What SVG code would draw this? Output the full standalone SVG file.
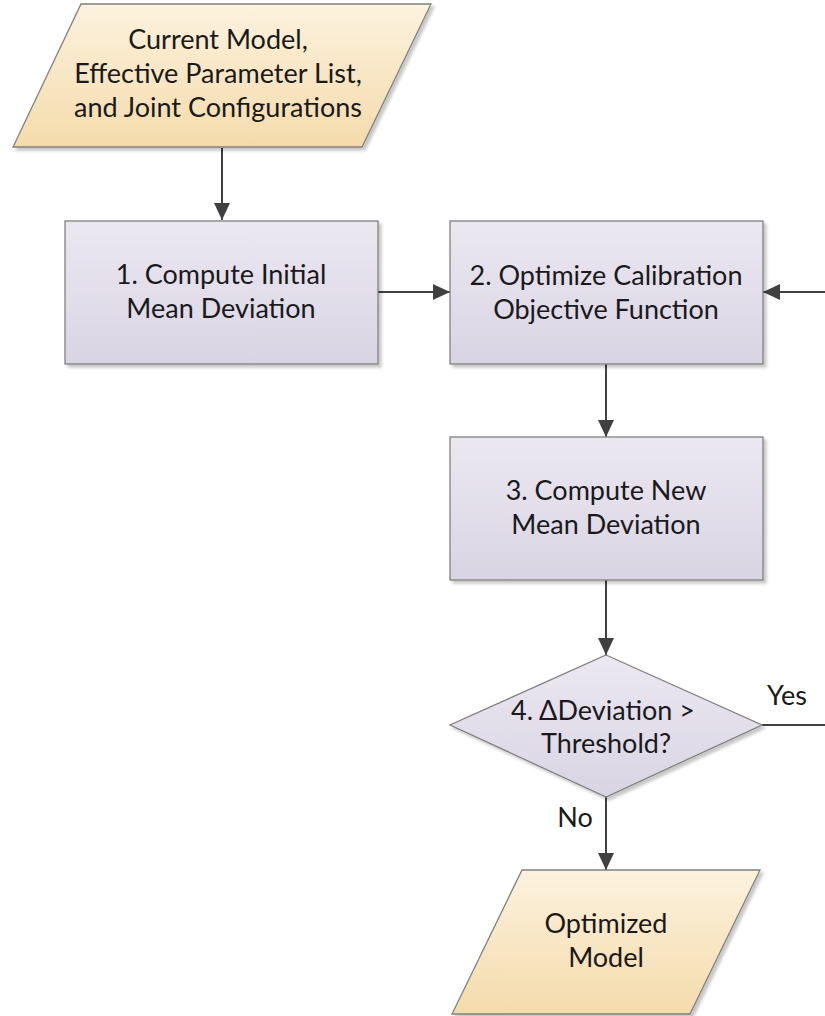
<svg xmlns="http://www.w3.org/2000/svg" width="825" height="1016" viewBox="0 0 825 1016">
<defs>
<linearGradient id="gBox" x1="0" y1="0" x2="0" y2="1">
<stop offset="0" stop-color="#ece8f1"/>
<stop offset="1" stop-color="#d9d4e3"/>
</linearGradient>
<linearGradient id="gIO" x1="0" y1="0" x2="0" y2="1">
<stop offset="0" stop-color="#fcf2de"/>
<stop offset="1" stop-color="#f4dbab"/>
</linearGradient>
<filter id="sh" x="-10%" y="-10%" width="130%" height="130%">
<feDropShadow dx="3" dy="3" stdDeviation="1.5" flood-color="#000" flood-opacity="0.22"/>
</filter>
<marker id="arr" markerUnits="userSpaceOnUse" viewBox="0 0 17 16" refX="17" refY="8" markerWidth="17" markerHeight="16" orient="auto">
<path d="M0,0 L17,8 L0,16 z" fill="#404040"/>
</marker>
</defs>
<style>
.box{fill:url(#gBox);stroke:#808080;stroke-width:1.3;filter:url(#sh)}
.io{fill:url(#gIO);stroke:#808080;stroke-width:1.3;filter:url(#sh)}
.t{font-family:Lato,"Liberation Sans",sans-serif;font-size:27px;fill:#1a1a1a;text-anchor:middle}
.c{stroke:#404040;stroke-width:2;fill:none}
</style>
<g id="connectors">
<path class="c" d="M222,148 L222,220" marker-end="url(#arr)"/>
<path class="c" d="M378,292 L450,292" marker-end="url(#arr)"/>
<path class="c" d="M825,292 L763,292" marker-end="url(#arr)"/>
<path class="c" d="M606,364 L606,437" marker-end="url(#arr)"/>
<path class="c" d="M606,580 L606,655" marker-end="url(#arr)"/>
<path class="c" d="M762,725 L825,725"/>
<path class="c" d="M606,797 L606,870" marker-end="url(#arr)"/>
<text class="t" x="787" y="705">Yes</text>
<text class="t" x="575" y="827">No</text>
</g>
<g id="input">
<polygon class="io" points="81,4 431,4 362,147 13,147"/>
<text class="t" x="218" y="49">Current Model,</text>
<text class="t" x="218" y="83">Effective Parameter List,</text>
<text class="t" x="218" y="117">and Joint Configurations</text>
</g>
<g id="step1">
<rect class="box" x="65" y="221" width="313" height="143"/>
<text class="t" x="221" y="284">1. Compute Initial</text>
<text class="t" x="221" y="318">Mean Deviation</text>
</g>
<g id="step2">
<rect class="box" x="450" y="221" width="313" height="143"/>
<text class="t" x="606" y="285">2. Optimize Calibration</text>
<text class="t" x="606" y="319">Objective Function</text>
</g>
<g id="step3">
<rect class="box" x="450" y="437" width="313" height="143"/>
<text class="t" x="606" y="500">3. Compute New</text>
<text class="t" x="606" y="534">Mean Deviation</text>
</g>
<g id="decision">
<polygon class="box" points="606,655 762,725 606,797 450,725"/>
<text class="t" x="603" y="720">4. ΔDeviation &gt;</text>
<text class="t" x="606" y="753">Threshold?</text>
</g>
<g id="output">
<polygon class="io" points="522,870 760,870 690,1014 452,1014"/>
<text class="t" x="606" y="933">Optimized</text>
<text class="t" x="606" y="967">Model</text>
</g>
</svg>
